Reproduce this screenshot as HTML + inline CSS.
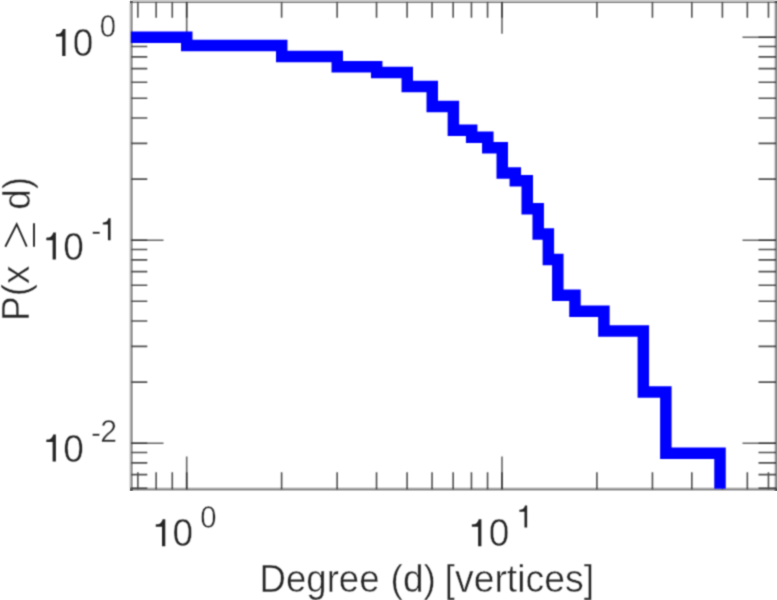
<!DOCTYPE html>
<html><head><meta charset="utf-8"><title>chart</title>
<style>html,body{margin:0;padding:0;background:#fff;overflow:hidden}svg{display:block;font-family:"Liberation Sans",sans-serif}text{fill:#262626;stroke:#fff;stroke-width:0.45px}</style>
</head><body>
<svg width="777" height="600" viewBox="0 0 777 600">
<defs><clipPath id="c"><rect x="130.9" y="0" width="650" height="488.8"/></clipPath>
<filter id="b" x="0" y="0" width="777" height="600" filterUnits="userSpaceOnUse" color-interpolation-filters="sRGB"><feConvolveMatrix order="3" kernelMatrix="0.0400 0.1200 0.0400 0.1200 0.3600 0.1200 0.0400 0.1200 0.0400" edgeMode="duplicate" preserveAlpha="false"/></filter></defs>
<rect width="777" height="600" fill="#fff"/>
<g fill="#000" shape-rendering="crispEdges"><rect x="130" y="0" width="647" height="1" fill-opacity="0.200"/><rect x="130" y="1" width="647" height="1" fill-opacity="0.290"/><rect x="130" y="2" width="647" height="1" fill-opacity="0.380"/><rect x="130" y="3" width="647" height="1" fill-opacity="0.098"/><rect x="130" y="4" width="647" height="1" fill-opacity="0.008"/><rect x="130" y="486" width="647" height="1" fill-opacity="0.012"/><rect x="130" y="487" width="647" height="1" fill-opacity="0.137"/><rect x="130" y="488" width="647" height="1" fill-opacity="0.310"/><rect x="130" y="489" width="647" height="1" fill-opacity="0.404"/><rect x="130" y="490" width="647" height="1" fill-opacity="0.231"/><rect x="130" y="491" width="647" height="1" fill-opacity="0.020"/><rect x="128" y="1" width="1" height="490" fill-opacity="0.020"/><rect x="129" y="1" width="1" height="490" fill-opacity="0.122"/><rect x="130" y="1" width="1" height="490" fill-opacity="0.278"/><rect x="131" y="1" width="1" height="490" fill-opacity="0.396"/><rect x="132" y="1" width="1" height="490" fill-opacity="0.278"/><rect x="133" y="1" width="1" height="490" fill-opacity="0.027"/><rect x="773" y="1" width="1" height="490" fill-opacity="0.039"/><rect x="774" y="1" width="1" height="490" fill-opacity="0.165"/><rect x="775" y="1" width="1" height="490" fill-opacity="0.373"/><rect x="776" y="1" width="1" height="490" fill-opacity="0.451"/></g>
<g filter="url(#b)">
<path d="M137.86 489.2V472.2M137.86 2.2V17.7M156.14 489.2V472.2M156.14 2.2V17.7M172.27 489.2V472.2M172.27 2.2V17.7M186.70 489.2V472.2M186.70 2.2V17.7M281.61 489.2V472.2M281.61 2.2V17.7M337.14 489.2V472.2M337.14 2.2V17.7M376.53 489.2V472.2M376.53 2.2V17.7M407.09 489.2V472.2M407.09 2.2V17.7M432.05 489.2V472.2M432.05 2.2V17.7M453.16 489.2V472.2M453.16 2.2V17.7M471.44 489.2V472.2M471.44 2.2V17.7M487.57 489.2V472.2M487.57 2.2V17.7M502.00 489.2V472.2M502.00 2.2V17.7M596.91 489.2V472.2M596.91 2.2V17.7M652.44 489.2V472.2M652.44 2.2V17.7M691.83 489.2V472.2M691.83 2.2V17.7M722.39 489.2V472.2M722.39 2.2V17.7M747.35 489.2V472.2M747.35 2.2V17.7M768.46 489.2V472.2M768.46 2.2V17.7M131.5 488.24H147.3M776.0 488.24H758.5M131.5 474.65H147.3M776.0 474.65H758.5M131.5 462.87H147.3M776.0 462.87H758.5M131.5 452.49H147.3M776.0 452.49H758.5M131.5 443.20H147.3M776.0 443.20H758.5M131.5 382.09H147.3M776.0 382.09H758.5M131.5 346.34H147.3M776.0 346.34H758.5M131.5 320.98H147.3M776.0 320.98H758.5M131.5 301.31H147.3M776.0 301.31H758.5M131.5 285.24H147.3M776.0 285.24H758.5M131.5 271.65H147.3M776.0 271.65H758.5M131.5 259.87H147.3M776.0 259.87H758.5M131.5 249.49H147.3M776.0 249.49H758.5M131.5 240.20H147.3M776.0 240.20H758.5M131.5 179.09H147.3M776.0 179.09H758.5M131.5 143.34H147.3M776.0 143.34H758.5M131.5 117.98H147.3M776.0 117.98H758.5M131.5 98.31H147.3M776.0 98.31H758.5M131.5 82.24H147.3M776.0 82.24H758.5M131.5 68.65H147.3M776.0 68.65H758.5M131.5 56.87H147.3M776.0 56.87H758.5M131.5 46.49H147.3M776.0 46.49H758.5M131.5 37.20H147.3M776.0 37.20H758.5" fill="none" stroke="#262626" stroke-opacity="0.8" stroke-width="1.6"/>
<path d="M186.70 489.2V456.6M186.70 2.2V33.7M502.00 489.2V456.6M502.00 2.2V33.7M131.5 443.20H163.5M776.0 443.20H742.5M131.5 240.20H163.5M776.0 240.20H742.5M131.5 37.20H163.5M776.0 37.20H742.5" fill="none" stroke="#262626" stroke-opacity="0.7" stroke-width="1.6"/>
<path d="M128.50 37.20H186.75V45.45H281.72V56.48H337.28V66.86H376.70V72.55H407.28V86.54H432.26V106.55H453.38V130.21H471.67V137.26H487.81V147.65H502.25V173.01H515.31V180.68H527.23V208.75H538.20V234.12H548.35V259.48H557.81V295.23H574.96V311.30H603.91V330.97H643.33V392.08H665.84V453.19H720.01V492.20" fill="none" stroke="#0000ff" stroke-width="11.5" stroke-linejoin="miter" clip-path="url(#c)"/>
<path transform="translate(52.20 56.00) scale(0.03700 -0.03848)" d="M359 0H271V505H101V568C190 572 258 590 287 703H359Z" fill="#262626"/><text transform="translate(72.77 56.00) scale(1 1.04)" font-size="37">0</text><text transform="translate(99.80 36.80) scale(0.97 1.04)" font-size="30.2">0</text>
<path transform="translate(42.60 259.60) scale(0.03700 -0.03848)" d="M359 0H271V505H101V568C190 572 258 590 287 703H359Z" fill="#262626"/><text transform="translate(63.17 259.60) scale(1 1.04)" font-size="37">0</text><text x="91.2" y="241.40" font-size="30.2">-</text><path transform="translate(99.76 240.30) scale(0.03020 -0.03141)" d="M359 0H271V505H101V568C190 572 258 590 287 703H359Z" fill="#262626"/>
<path transform="translate(42.60 461.50) scale(0.03700 -0.03848)" d="M359 0H271V505H101V568C190 572 258 590 287 703H359Z" fill="#262626"/><text transform="translate(63.17 461.50) scale(1 1.04)" font-size="37">0</text><text x="90.9" y="443.30" font-size="30.2">-</text><text transform="translate(100.16 442.00) scale(1 1.04)" font-size="30.2">2</text>
<path transform="translate(152.00 546.30) scale(0.03700 -0.03848)" d="M359 0H271V505H101V568C190 572 258 590 287 703H359Z" fill="#262626"/><text transform="translate(172.57 546.30) scale(1 1.04)" font-size="37">0</text><text transform="translate(200.20 528.20) scale(0.97 1.04)" font-size="30.2">0</text>
<path transform="translate(468.10 546.30) scale(0.03700 -0.03848)" d="M359 0H271V505H101V568C190 572 258 590 287 703H359Z" fill="#262626"/><text transform="translate(488.67 546.30) scale(1 1.04)" font-size="37">0</text><path transform="translate(516.30 527.50) scale(0.03020 -0.03141)" d="M359 0H271V505H101V568C190 572 258 590 287 703H359Z" fill="#262626"/>
<text transform="translate(259.6 591.7) scale(0.988 1.04)" font-size="37">Degree</text><text transform="translate(390.6 591.7) scale(1 1.04)" font-size="37">(d)</text><text transform="translate(444.6 591.7) scale(1.01 1.04)" font-size="37">[vertices]</text>
<g transform="translate(29.3 320.1) rotate(-90)"><text transform="translate(-0.8 0) scale(1 1.04)" font-size="37">P(x</text><path d="M73.4 -24 L95.9 -12.6 L73.4 -2.6 M73.4 4.7 H96.8" fill="none" stroke="#262626" stroke-width="1.9"/><text transform="translate(110.4 0.6) scale(1 1.04)" font-size="37">d)</text></g>
</g>
</svg>
</body></html>
